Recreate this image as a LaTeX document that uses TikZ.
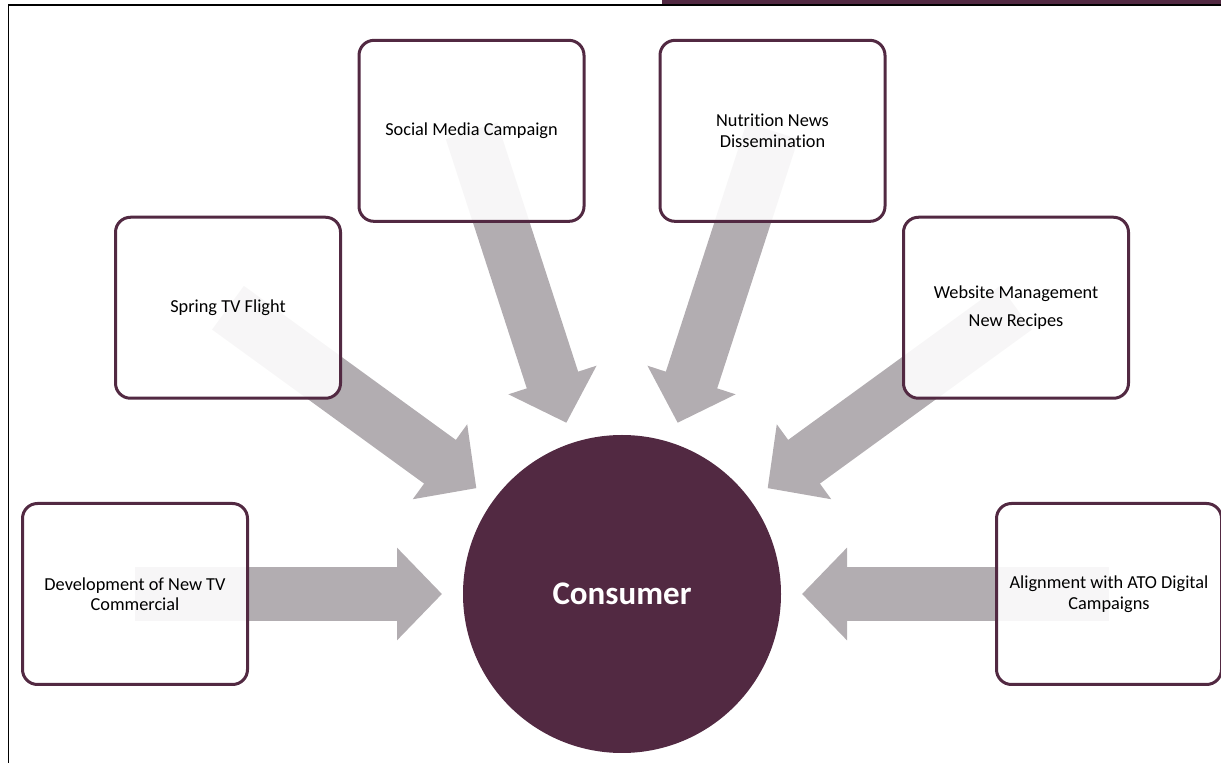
\documentclass[tikz,border=0pt]{standalone}
\usepackage{fontspec}
\setmainfont{Carlito}[Ligatures=NoCommon]
\usetikzlibrary{calc,arrows.meta,backgrounds}

\definecolor{plum}{RGB}{82,41,66}
\definecolor{arrowgray}{RGB}{178,173,177}

\tikzset{
  item/.style={draw=plum, line width=3pt, rounded corners=15pt,
    fill=white, fill opacity=0.9, text opacity=1,
    minimum width=225pt, minimum height=181pt, align=center,
    font=\fontsize{18.3}{20.5}\selectfont},
  hub/.style={circle, fill=plum, minimum size=318pt, text=white,
    font=\bfseries\fontsize{33}{38}\selectfont},
  bigarrow/.style={draw=arrowgray, line width=54pt,
    -{Triangle[length=45pt, width=90pt]}}
}

\begin{document}
\begin{tikzpicture}[x=1pt, y=1pt]
  \useasboundingbox (0,0) rectangle (1221,763);

  % Frame
  \fill[plum] (662,759) rectangle (1221,763);
  \draw[line width=1.5pt] (8.5,0) -- (8.5,758) -- (1221,758);

  % Define nodes
  \node[hub] (cons) at (622,169) {Consumer};
  \node[item] (dev)    at ($(cons)+(180:487)$) {Development of New TV\\Commercial};
  \node[item] (spring) at ($(cons)+(144:487)$) {Spring TV Flight};
  \node[item] (social) at ($(cons)+(108:487)$) {Social Media Campaign};
  \node[item] (news)   at ($(cons)+(72:487)$)  {Nutrition News\\Dissemination};
  \node[item] (web)    at ($(cons)+(36:487)$)  {Website Management\\[8pt]New Recipes};
  \node[item] (ato)    at ($(cons)+(0:487)$)   {Alignment with ATO Digital\\Campaigns};

  % Connect the nodes
  \begin{scope}[on background layer]
    \foreach \n in {dev,spring,social,news,web,ato}
      \draw[bigarrow] (\n.center) -- ($(cons.center)!180pt!(\n.center)$);
  \end{scope}

\end{tikzpicture}
\end{document}
